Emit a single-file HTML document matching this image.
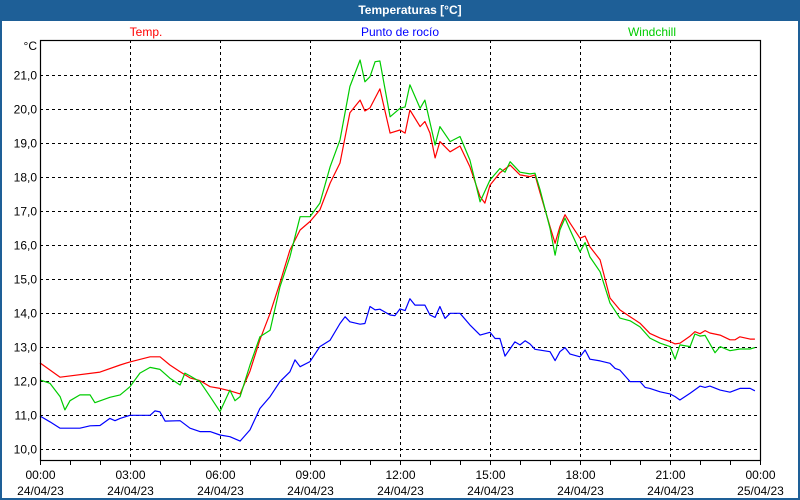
<!DOCTYPE html>
<html><head><meta charset="utf-8">
<style>
html,body{margin:0;padding:0;background:#fff;}
#wrap{position:relative;width:800px;height:500px;overflow:hidden;background:#1e5f97;}
svg{position:absolute;left:0;top:0;}
text{font-family:"Liberation Sans",sans-serif;font-size:12px;}
</style></head><body>
<div id="wrap">
<svg id="chart" width="800" height="500"></svg>
</div>
<script>
const tempT=[0,0.67,2,2.67,3,3.67,4,4.33,4.67,5,5.33,5.67,6,6.33,6.67,7,7.33,7.67,8,8.33,8.67,9,9.33,9.67,10,10.33,10.67,10.83,11,11.33,11.67,12,12.17,12.33,12.67,12.83,13,13.17,13.33,13.67,14,14.33,14.67,14.83,15,15.33,15.67,16,16.33,16.5,16.67,17,17.17,17.33,17.5,17.67,18,18.17,18.33,18.67,19,19.33,19.67,20,20.33,20.67,21,21.17,21.33,21.67,21.83,22,22.17,22.33,22.67,23,23.17,23.33,23.67,23.83];
const tempV=[12.54,12.12,12.27,12.48,12.57,12.72,12.72,12.48,12.28,12.1,12.02,11.84,11.79,11.72,11.63,12.3,13.22,14.0,14.9,15.86,16.45,16.7,17.04,17.83,18.42,19.9,20.27,19.95,20.04,20.6,19.3,19.39,19.3,19.98,19.49,19.64,19.3,18.57,19.05,18.75,18.92,18.31,17.43,17.24,17.77,18.13,18.36,18.07,18.02,18.07,17.54,16.55,16.06,16.55,16.9,16.65,16.21,16.27,15.96,15.57,14.45,14.1,13.9,13.71,13.41,13.27,13.17,13.1,13.12,13.33,13.46,13.4,13.49,13.42,13.36,13.22,13.22,13.31,13.24,13.24];
const chillT=[0,0.33,0.67,0.83,1,1.33,1.67,1.83,2.33,2.67,3,3.33,3.67,4,4.33,4.67,4.83,5,5.33,5.67,6,6.33,6.5,6.67,7,7.33,7.67,8,8.33,8.67,9,9.33,9.67,10,10.33,10.67,10.83,11,11.17,11.33,11.67,12,12.17,12.33,12.67,12.83,13.17,13.33,13.67,14,14.33,14.67,15,15.33,15.5,15.67,16,16.33,16.5,16.67,17,17.17,17.33,17.5,17.67,18,18.17,18.33,18.67,19,19.33,19.67,20,20.33,20.67,21,21.17,21.33,21.67,21.83,22,22.17,22.5,22.67,23,23.33,23.67,23.83];
const chillV=[12.04,11.94,11.55,11.16,11.43,11.6,11.6,11.37,11.53,11.6,11.84,12.24,12.41,12.35,12.09,11.89,12.24,12.16,11.99,11.55,11.11,11.74,11.43,11.55,12.48,13.31,13.5,14.78,15.66,16.84,16.84,17.24,18.31,19.1,20.67,21.45,20.81,20.96,21.4,21.42,19.78,20.03,20.07,20.72,20.03,20.27,18.95,19.49,19.05,19.2,18.51,17.28,17.92,18.26,18.15,18.46,18.15,18.1,18.12,17.63,16.5,15.71,16.45,16.8,16.45,15.81,16.08,15.66,15.22,14.3,13.86,13.78,13.6,13.27,13.12,13.02,12.65,13.07,13.02,13.39,13.33,13.35,12.84,13.02,12.9,12.95,12.95,12.99];
const dewT=[0,0.33,0.67,1.33,1.67,2,2.33,2.5,2.67,3,3.67,3.83,4,4.17,4.67,5,5.33,5.67,6,6.33,6.67,7,7.33,7.67,8,8.33,8.5,8.67,9,9.33,9.67,10,10.17,10.33,10.67,10.83,11,11.17,11.33,11.67,11.83,12,12.17,12.33,12.5,12.83,13,13.17,13.33,13.5,13.67,14,14.33,14.67,15,15.17,15.33,15.5,15.83,16,16.17,16.33,16.5,17,17.17,17.33,17.5,17.67,18,18.17,18.33,18.67,19,19.17,19.33,19.67,20,20.17,20.33,20.67,21,21.17,21.33,21.67,22,22.17,22.33,22.67,23,23.33,23.67,23.83];
const dewV=[10.98,10.81,10.62,10.62,10.69,10.7,10.91,10.84,10.91,11.0,11.0,11.13,11.1,10.83,10.84,10.62,10.52,10.52,10.42,10.37,10.24,10.57,11.2,11.55,11.99,12.28,12.63,12.43,12.58,13.02,13.21,13.7,13.9,13.75,13.68,13.7,14.2,14.1,14.12,13.95,13.93,14.13,14.08,14.43,14.24,14.24,13.95,13.88,14.2,13.85,14.0,14.0,13.66,13.36,13.44,13.26,13.26,12.74,13.16,13.07,13.19,13.1,12.94,12.87,12.61,12.87,12.99,12.8,12.72,12.92,12.65,12.6,12.53,12.38,12.33,11.99,11.99,11.82,11.79,11.69,11.63,11.55,11.45,11.65,11.86,11.82,11.86,11.74,11.68,11.79,11.79,11.72];
const yTicks=[10,11,12,13,14,15,16,17,18,19,20,21];
const xTickHours=[0,3,6,9,12,15,18,21,24];
const xTimeLabels=["00:00","03:00","06:00","09:00","12:00","15:00","18:00","21:00","00:00"];
const xDateLabels=["24/04/23","24/04/23","24/04/23","24/04/23","24/04/23","24/04/23","24/04/23","24/04/23","25/04/23"];

const L=40,R=760,T=40,B=460;
const xs=h=>L+h*(R-L)/24;
const ys=v=>449.3-(v-10)*34;
const svg=document.getElementById('chart');
const NS='http://www.w3.org/2000/svg';
function mk(tag,attrs,parent){const e=document.createElementNS(NS,tag);for(const k in attrs)e.setAttribute(k,attrs[k]);(parent||svg).appendChild(e);return e;}

let e=mk('rect',{x:2,y:21,width:796,height:477,fill:'#fff'});


e=mk('text',{x:410,y:14,'text-anchor':'middle',fill:'#fff','font-weight':'bold'});
e.textContent='Temperaturas [°C]';



const legends=[['Temp.','#ff0000',146],['Punto de rocío','#0000ff',400],['Windchill','#00cc00',652]];
legends.forEach(l=>{const t=mk('text',{x:l[2],y:36,'text-anchor':'middle',fill:l[1]});t.textContent=l[0];

});

const grid=mk('g',{stroke:'#000','stroke-width':1,'stroke-dasharray':'3,3'});


yTicks.forEach(v=>{const y=Math.round(ys(v))+0.5;mk('line',{x1:L,x2:R,y1:y,y2:y},grid);
const t=mk('text',{x:37,y:y+4,'text-anchor':'end',fill:'#000'});t.textContent=v.toFixed(1).replace('.',',');

});
xTickHours.forEach((h,i)=>{const x=Math.round(xs(h))+0.5;if(h>0&&h<24)mk('line',{x1:x,x2:x,y1:T,y2:B},grid);
let t=mk('text',{x:x,y:479,'text-anchor':'middle',fill:'#000'});t.textContent=xTimeLabels[i];


t=mk('text',{x:x,y:495,'text-anchor':'middle',fill:'#000'});t.textContent=xDateLabels[i];

});
for(let h=0;h<=24;h++){const x=Math.round(xs(h))+0.5;mk('line',{x1:x,x2:x,y1:B,y2:B+5,stroke:'#000'});}
e=mk('text',{x:37,y:50,'text-anchor':'end',fill:'#000'});e.textContent='°C';



function series(T_,V_,color,name){const d=T_.map((h,i)=>(i?'L':'M')+xs(h).toFixed(1)+','+ys(V_[i]).toFixed(1)).join('');
const p=mk('path',{d:d,fill:'none',stroke:color,'stroke-width':1.2,'stroke-linejoin':'round'});

}
series(dewT,dewV,'#0000ff','dew-point-line');
series(tempT,tempV,'#ff0000','temp-line');
series(chillT,chillV,'#00cc00','windchill-line');
e=mk('rect',{x:L+0.5,y:T+0.5,width:R-L,height:B-T,fill:'none',stroke:'#000','stroke-width':1.2});


</script>
</body></html>
